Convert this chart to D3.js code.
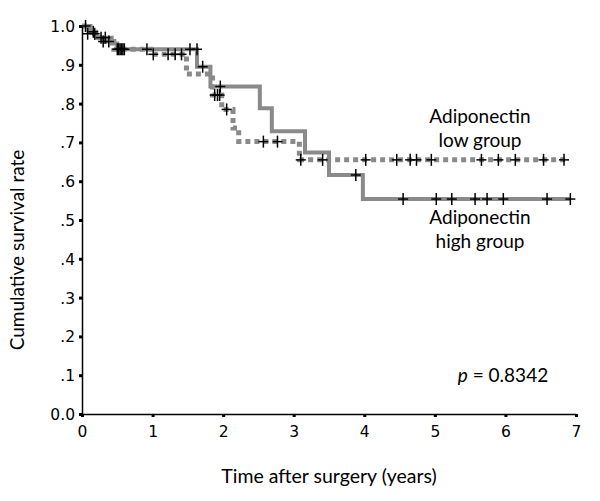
<!DOCTYPE html>
<html><head><meta charset="utf-8">
<script src="https://cdn.jsdelivr.net/npm/d3@7"></script>
<style>html,body{margin:0;padding:0;background:#fff;}</style>
</head><body>
<svg id="chart" width="600" height="501"></svg>
<script>
// ---- data ----
const xTicks = [0,1,2,3,4,5,6,7];
const xTickLabels = ["0","1","2","3","4","5","6","7"];
const yTicks = [0,0.1,0.2,0.3,0.4,0.5,0.6,0.7,0.8,0.9,1.0];
const yTickLabels = ["0.0",".1",".2",".3",".4",".5",".6",".7",".8",".9","1.0"];

const highTimes = [0, 0.12, 0.2, 0.42, 0.5, 1.63, 1.82, 2.52, 2.69, 3.16, 3.5, 3.98, 6.92];
const highSurv  = [1.0, 0.985, 0.97, 0.955, 0.94, 0.895, 0.844, 0.788, 0.729, 0.674, 0.616, 0.554, 0.554];
const highCensT = [0.05, 0.16, 0.27, 0.33, 0.52, 0.56, 0.6, 0.92, 1.53, 1.63, 1.71, 1.96, 3.88, 4.55, 5.02, 5.24, 5.57, 5.74, 5.97, 6.59, 6.92];
const highCensS = [1.0, 0.985, 0.97, 0.97, 0.94, 0.94, 0.94, 0.94, 0.94, 0.94, 0.895, 0.844, 0.616, 0.554, 0.554, 0.554, 0.554, 0.554, 0.554, 0.554, 0.554];

const lowTimes = [0, 0.1, 0.25, 0.45, 0.98, 1.48, 1.85, 1.98, 2.14, 2.22, 3.08, 6.9];
const lowSurv  = [1.0, 0.98, 0.96, 0.94, 0.927, 0.876, 0.822, 0.785, 0.737, 0.702, 0.655, 0.655];
const lowCensT = [0.08, 0.18, 0.3, 0.38, 0.5, 0.54, 0.58, 1.01, 1.22, 1.32, 1.41, 1.88, 1.92, 1.95, 2.05, 2.57, 2.77, 3.10, 3.41, 4.02, 4.46, 4.65, 4.74, 4.95, 5.66, 5.90, 6.14, 6.54, 6.83];
const lowCensS = [0.98, 0.98, 0.96, 0.96, 0.94, 0.94, 0.94, 0.927, 0.927, 0.927, 0.927, 0.822, 0.822, 0.822, 0.785, 0.702, 0.702, 0.655, 0.655, 0.655, 0.655, 0.655, 0.655, 0.655, 0.655, 0.655, 0.655, 0.655, 0.655];

// ---- layout ----
const svg = d3.select("#chart");
const x = d3.scaleLinear().domain([0,7]).range([82,576]);
const y = d3.scaleLinear().domain([0,1]).range([414,26]);
const gray = "#8a8a8a";
const tickFont = "DejaVu Sans, Verdana, sans-serif";
const textFont = "Lato, 'Open Sans', sans-serif";

// curves
const line = d3.line().x(d=>x(d[0])).y(d=>y(d[1])).curve(d3.curveStepAfter);
svg.append("path").datum(lowTimes.map((t,i)=>[t,lowSurv[i]]))
  .attr("d", line).attr("fill","none").attr("stroke",gray)
  .attr("stroke-width",5).attr("stroke-dasharray","5,4");
svg.append("path").datum(highTimes.map((t,i)=>[t,highSurv[i]]))
  .attr("d", line).attr("fill","none").attr("stroke",gray)
  .attr("stroke-width",4);

// censor marks
function plus(ts, ss){
  const g = svg.append("g").attr("stroke","#000").attr("stroke-width",1.5);
  ts.forEach((t,i)=>{
    const cx = x(t), cy = y(ss[i]);
    g.append("line").attr("x1",cx-5).attr("x2",cx+5).attr("y1",cy).attr("y2",cy);
    g.append("line").attr("x1",cx).attr("x2",cx).attr("y1",cy-6).attr("y2",cy+6);
  });
}
plus(lowCensT, lowCensS);
plus(highCensT, highCensS);

// axes
const yAxis = d3.axisLeft(y).tickValues(yTicks).tickSize(3).tickSizeOuter(0)
  .tickFormat((d,i)=>yTickLabels[i]);
const gy = svg.append("g").attr("transform","translate(82,0)").call(yAxis);
const xAxis = d3.axisBottom(x).tickValues(xTicks).tickSize(3).tickSizeOuter(0)
  .tickFormat((d,i)=>xTickLabels[i]);
const gx = svg.append("g").attr("transform","translate(0,414)").call(xAxis);
[gx,gy].forEach(g=>{
  g.select(".domain").attr("stroke","#000").attr("stroke-width",1.5);
  g.selectAll(".tick line").attr("stroke","#000").attr("stroke-width",3);
  g.selectAll(".tick text").attr("fill","#000").attr("font-family",tickFont).attr("font-size",15.5);
});
gy.selectAll(".tick text").attr("x",-7).attr("dy","0.35em");
gx.selectAll(".tick text").attr("y",12);

// text
svg.append("text").attr("x",329).attr("y",483).attr("text-anchor","middle")
  .attr("font-family",textFont).attr("font-size",19.5).text("Time after surgery (years)");
svg.append("text").attr("transform","translate(24,250) rotate(-90)").attr("text-anchor","middle")
  .attr("font-family",textFont).attr("font-size",19).text("Cumulative survival rate");
const labels = [["Adiponectin",480,123],["low group",480,147],["Adiponectin",480,224],["high group",480,248]];
labels.forEach(l=>svg.append("text").attr("x",l[1]).attr("y",l[2]).attr("text-anchor","middle")
  .attr("font-family",textFont).attr("font-size",19).text(l[0]));
const pt = svg.append("text").attr("x",503).attr("y",382).attr("text-anchor","middle")
  .attr("font-family",textFont).attr("font-size",19);
pt.append("tspan").attr("font-style","italic").text("p");
pt.append("tspan").text(" = 0.8342");
</script>
</body></html>
